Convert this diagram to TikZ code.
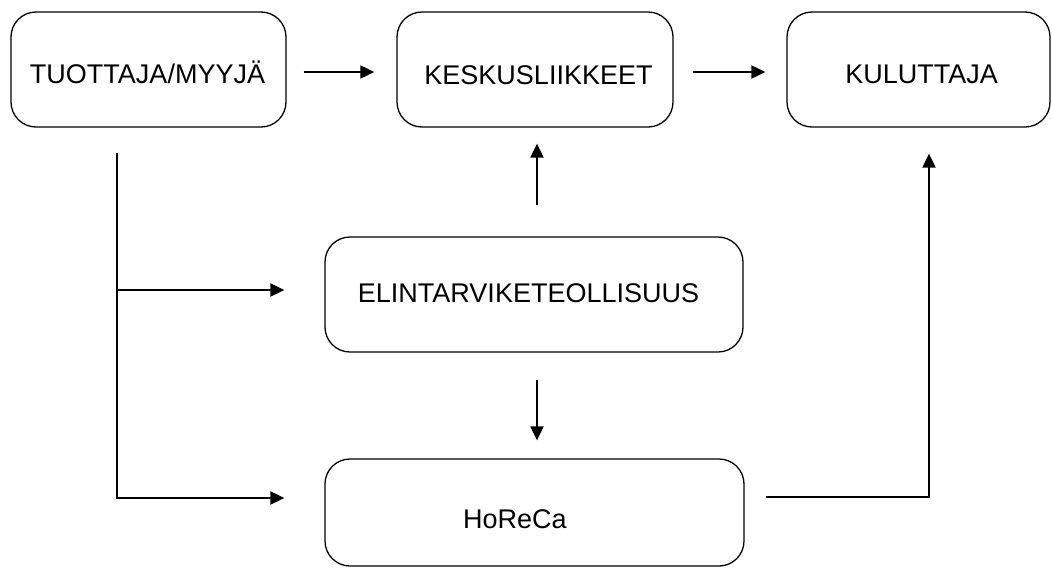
\documentclass[tikz,border=0pt]{standalone}
\usepackage{fontspec}
\setmainfont{Liberation Sans}
\usetikzlibrary{arrows.meta}
\begin{document}
\begin{tikzpicture}[x=1pt,y=-1pt,
  boxstyle/.style={draw, line width=1.3pt, rounded corners=25pt, inner sep=0pt},
  txt/.style={anchor=base, inner sep=0pt, font=\fontsize{27}{32}\selectfont},
  conn/.style={line width=2pt},
  arr/.style={conn, -{Triangle[length=14pt,width=13pt]}}]
\useasboundingbox (0,0) rectangle (1052,568);
% boxes
\node[boxstyle, minimum width=275pt, minimum height=115pt] (b1) at (148.5,69.5) {};
\node[boxstyle, minimum width=276pt, minimum height=115pt] (b2) at (535,69.5) {};
\node[boxstyle, minimum width=263pt, minimum height=115pt] (b3) at (918.5,69.5) {};
\node[boxstyle, minimum width=418pt, minimum height=115pt] (e) at (534,294.5) {};
\node[boxstyle, minimum width=419pt, minimum height=107pt] (h) at (534.5,512.5) {};
% texts
\node[txt] (t1) at (147.5,83) {TUOTTAJA/MYYJÄ};
\node[txt] (t2) at (538.5,84) {KESKUSLIIKKEET};
\node[txt] (t3) at (921.5,83.5) {KULUTTAJA};
\node[txt] (t4) at (528.5,302) {ELINTARVIKETEOLLISUUS};
\node[txt] (t5) at (515,528) {HoReCa};
% top row arrows
\draw[arr, shorten <=17pt, shorten >=22pt] ([yshift=-2.5pt]b1.east) -- ([yshift=-2.5pt]b2.west);
\draw[arr, shorten <=19pt, shorten >=21pt] ([yshift=-2.5pt]b2.east) -- ([yshift=-2.5pt]b3.west);
% vertical arrows around ELINTARVIKETEOLLISUUS
\draw[arr, shorten <=31pt, shorten >=16pt] ([xshift=3pt]e.north) -- ([xshift=2pt]b2.south);
\draw[arr, shorten <=27pt, shorten >=18pt] ([xshift=3pt]e.south) -- ([xshift=2.5pt]h.north);
% left tree
\coordinate (j) at (117,290);
\draw[arr, shorten <=25pt, shorten >=40pt] ([xshift=-31.5pt]b1.south) |- ([yshift=14.5pt]h.west);
\draw[arr, shorten >=40pt] (j) -- ([yshift=4.5pt]e.west);
% HoReCa to KULUTTAJA
\draw[arr, shorten <=21pt, shorten >=26pt] ([yshift=15.5pt]h.east) -| ([xshift=10.5pt]b3.south);
\end{tikzpicture}
\end{document}
